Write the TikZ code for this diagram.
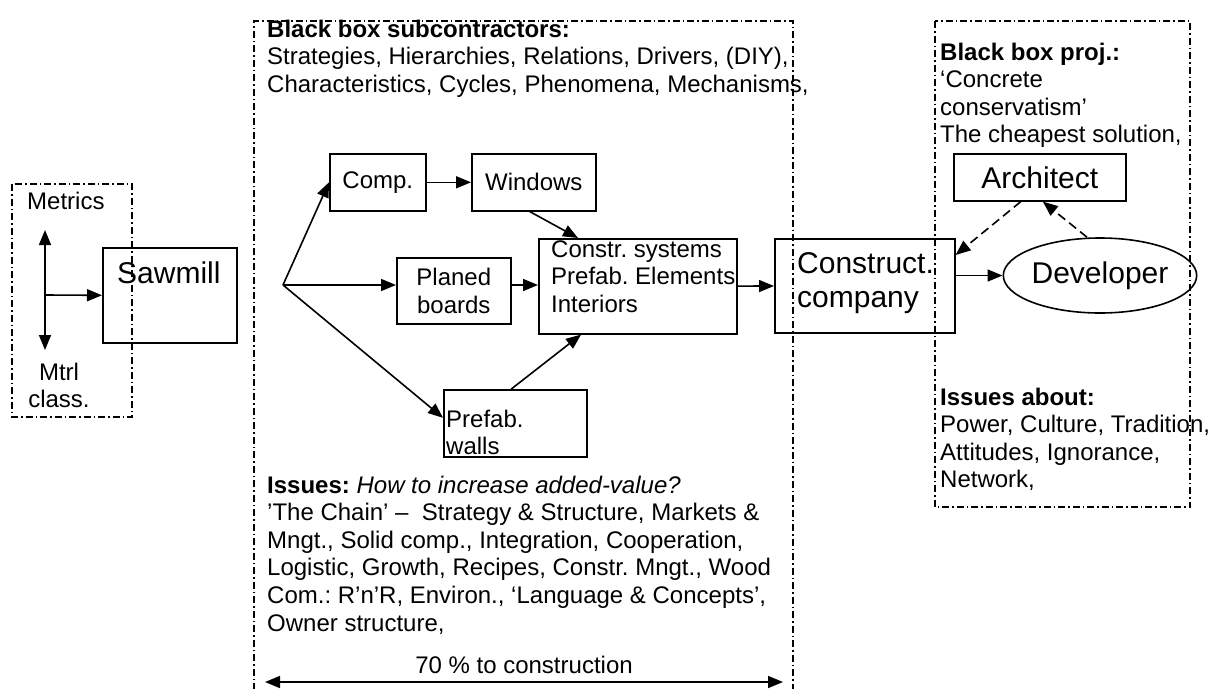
\documentclass[tikz,border=0pt]{standalone}
\usepackage{fontspec}
\setmainfont{Liberation Sans}
\usetikzlibrary{arrows.meta,shapes.geometric,calc}
\frenchspacing

\begin{document}
\begin{tikzpicture}[x=1pt,y=-1pt,
  txt/.style={font=\fontsize{24}{27.6}\selectfont},
  big/.style={font=\fontsize{30}{34.5}\selectfont},
  box/.style={draw, line width=1.6pt, inner sep=0pt, anchor=north west, align=center},
  lbl/.style={inner sep=0pt, anchor=base west, align=left},
  frame/.style={line width=1.3pt, dash pattern=on 7pt off 3pt on 1.5pt off 3pt},
  arr/.style={line width=1.6pt, -{Triangle[length=15pt,width=12pt]}},
  darr/.style={line width=1.6pt, -{Triangle[length=15pt,width=12pt]}, dash pattern=on 9pt off 5pt},
  both/.style={line width=1.6pt, {Triangle[length=15pt,width=12pt]}-{Triangle[length=15pt,width=12pt]}},
]
\useasboundingbox (0,0) rectangle (1209,688);
% multi-line labels are placed by the baseline of their last line

% ---- left group: sawmill ----
\draw[frame] (12,184) rectangle (132,417);
\node[lbl,txt] (metrics) at (27,209) {Metrics};
\node[txt, inner sep=0pt, align=center, anchor=base] (mtrl) at (59,407.6) {Mtrl\\class.};
\coordinate (mtop) at (45,230);
\coordinate (mbot) at (45,350);
\coordinate (msplit) at (45,295);
\node[box, minimum width=134pt, minimum height=95pt] (sawmill) at (102,247) {};
\node[lbl,big] (sawmilltxt) at (117,283) {Sawmill};
\draw[both] (mtop) -- (mbot);
\draw[arr] (msplit) -- (sawmill.west);

% ---- middle group: subcontractors ----
\draw[frame] (254,690) -- (254,21) -- (793,21) -- (793,690);
\node[lbl,txt] (bbsub) at (267,92.2) {\textbf{Black box subcontractors:}\\
  Strategies, Hierarchies, Relations, Drivers, (DIY),\\
  Characteristics, Cycles, Phenomena, Mechanisms,};

\coordinate (fan) at (283,285);
\node[box,txt, minimum width=96pt, minimum height=57pt] (comp) at (329,153) {Comp.};
\node[box,txt, minimum width=124pt, minimum height=57pt] (windows) at (471,153) {Windows};
\node[box,txt, minimum width=114pt, minimum height=66pt] (planed) at (396,257) {Planed\\boards};
\node[box, minimum width=198pt, minimum height=95pt] (constr) at (538,238) {};
\node[lbl,txt] (constrtxt) at (551,312.2) {Constr. systems\\Prefab. Elements\\Interiors};
\node[box, minimum width=143pt, minimum height=67pt] (prefab) at (443,389) {};
\node[lbl,txt] (prefabtxt) at (446,454.6) {Prefab.\\walls};

\draw[arr] (fan) -- (comp.west);
\draw[arr] (fan) -- (fan -| planed.west);
\draw[arr] (fan) -- ([yshift=5.5pt]prefab.west);
\draw[arr] (comp) -- (windows);
\draw[arr] ([xshift=-4pt]windows.south) -- ($(constr.north west)+(40,0)$);
\draw[arr] (planed.east |- fan) -- (constr.west |- fan);
\draw[arr] ([xshift=-4pt]prefab.north) -- ($(constr.south west)+(43,0)$);

\node[lbl,txt] (issues) at (267,631) {\textbf{Issues:} \textit{How to increase added-value?}\\
  ’The Chain’ –\ \ Strategy \& Structure, Markets \&\\
  Mngt., Solid comp., Integration, Cooperation,\\
  Logistic, Growth, Recipes, Constr. Mngt., Wood\\
  Com.: R’n’R, Environ., ‘Language \& Concepts’,\\
  Owner structure,};
\coordinate (chainL) at (265,682);
\coordinate (chainR) at (783,682);
\draw[both] (chainL) -- (chainR);
\node[txt, inner sep=0pt, anchor=base] (share) at (524,673) {70 \% to construction};

% ---- construction company ----
\node[box, minimum width=180pt, minimum height=94pt] (construct) at (774,238) {};
\node[lbl,big] (constructtxt) at (797,307.5) {Construct.\\company};
\draw[arr] (constr) -- (construct);

% ---- right group: project ----
\draw[frame] (935,21) rectangle (1190,507);
\node[lbl,txt] (bbproj) at (940,142.8) {\textbf{Black box proj.:}\\
  ‘Concrete\\conservatism’\\The cheapest solution,};
\node[box,big, minimum width=172pt, minimum height=47pt] (architect) at (953,153) {Architect};
\node[draw, ellipse, line width=1.6pt, inner sep=0pt, minimum width=162pt, minimum height=75pt, big]
  (developer) at (1100,275.5) {Developer};
\draw[arr] (construct.east |- developer.west) -- (developer.west);
\draw[darr] ([xshift=-19pt]architect.south) -- ([yshift=-17pt]construct.north east);
\draw[darr] ([xshift=-13pt]developer.north) -- ([xshift=3pt]architect.south);
\node[lbl,txt] (issuesabout) at (940,487.8) {\textbf{Issues about:}\\
  Power, Culture, Tradition,\\Attitudes, Ignorance,\\Network,};
\end{tikzpicture}
\end{document}
